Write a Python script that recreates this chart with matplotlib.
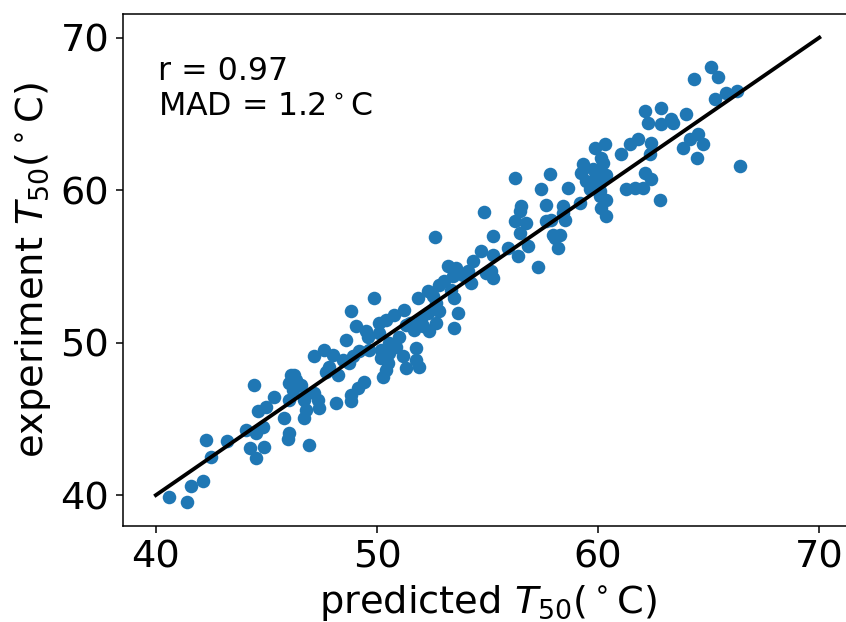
import matplotlib
matplotlib.use("Agg")
import matplotlib.pyplot as plt

predicted = [
    40.60, 41.40, 41.58, 42.14, 42.25, 42.49, 43.20, 44.07, 44.27, 44.53, 44.90, 44.42, 44.60, 44.98,
    45.36, 45.78, 46.03, 45.96, 46.11, 46.03, 46.71, 46.94, 44.55, 44.86, 46.56, 46.71, 46.79,
    48.83, 49.88, 49.05, 49.51, 48.60, 47.17, 47.62, 47.99, 47.85, 48.22, 47.70, 46.26, 46.34, 46.03,
    46.18, 46.71, 47.17, 47.32, 47.39, 48.15, 48.83, 48.83, 49.13, 49.43, 50.26, 50.41, 51.32, 50.11,
    50.41, 50.79, 51.24, 50.11, 50.56, 51.01, 51.32, 50.19, 50.56, 50.86, 48.90, 49.20, 49.66, 48.45,
    48.75,
    52.60, 54.71, 54.33, 53.20, 53.58, 54.11, 54.26, 54.94, 52.82, 53.05, 52.30, 51.84, 53.35, 53.50,
    53.65, 53.50, 52.68, 52.82, 52.68, 52.30, 52.00, 52.07, 52.37, 49.58, 51.47, 51.69, 51.77, 51.16,
    51.77, 51.92, 50.19, 50.48,
    56.22, 57.43, 57.84, 58.63, 57.65, 58.41, 56.52, 56.45, 54.86, 56.22, 56.75, 57.65, 58.48, 56.45,
    57.95, 58.26, 58.18, 55.24, 55.92, 56.82, 55.24, 56.37, 53.88, 57.27, 53.43, 55.17, 55.24, 52.52,
    62.25, 61.80, 61.43, 61.05, 59.84, 60.29, 60.14, 60.22, 59.31, 59.24, 59.76, 60.07, 60.37, 59.47,
    59.76, 60.07, 59.62, 60.07, 62.11, 62.03, 61.65, 61.28, 59.17, 60.07, 60.37, 60.14, 60.37, 58.41,
    57.88, 58.03,
    65.12, 65.42, 64.32, 65.80, 66.26, 65.27, 62.11, 62.86, 62.86, 63.31, 63.39, 63.96, 64.14, 64.52,
    64.74, 63.84, 64.45, 66.40, 62.41, 62.33, 62.41, 62.78, 59.92,
]
experiment = [
    39.85, 39.52, 40.61, 40.92, 43.61, 42.52, 43.55, 44.27, 43.07, 42.41, 43.13, 47.25, 45.54, 45.80,
    46.46, 45.04, 44.05, 43.66, 47.88, 46.24, 45.04, 43.29, 44.05, 44.49, 47.23, 46.46, 45.58,
    52.04, 52.94, 51.06, 50.73, 50.18, 49.09, 49.53, 49.20, 48.43, 47.88, 48.10, 47.88, 47.56, 47.34,
    46.90, 46.24, 46.68, 46.24, 45.70, 46.03, 46.57, 46.18, 47.01, 47.44, 47.77, 48.21, 48.32, 51.28,
    51.50, 51.83, 52.15, 50.62, 49.97, 50.40, 51.17, 49.53, 49.31, 49.74, 49.09, 49.42, 49.53, 48.87,
    48.65,
    56.93, 55.99, 55.33, 55.00, 54.89, 54.67, 53.91, 54.57, 53.80, 54.01, 53.36, 52.92, 53.47, 52.92,
    51.94, 50.95, 52.60, 52.04, 51.28, 51.94, 51.50, 51.06, 50.73, 50.40, 51.28, 50.84, 49.64, 49.09,
    48.87, 48.43, 48.98, 48.65,
    60.81, 60.04, 61.07, 60.15, 59.05, 58.94, 58.94, 58.61, 58.57, 57.96, 57.85, 57.96, 58.07, 57.19,
    57.08, 57.08, 56.21, 56.97, 56.21, 56.31, 55.77, 55.66, 54.45, 54.96, 54.34, 54.67, 54.24, 53.03,
    64.42, 63.32, 63.00, 62.34, 62.78, 63.00, 62.12, 61.79, 61.68, 61.14, 61.35, 61.24, 61.02, 60.58,
    60.37, 60.48, 60.04, 59.93, 61.14, 60.15, 60.15, 60.04, 59.17, 59.60, 59.38, 58.84, 58.29, 58.51,
    58.07, 56.87,
    68.07, 67.42, 67.27, 66.39, 66.50, 65.95, 65.18, 65.41, 64.31, 64.64, 64.42, 64.97, 63.32, 63.65,
    63.00, 62.78, 62.12, 61.57, 63.11, 62.34, 60.70, 59.32, 61.02,
]
diag = [40, 70]
ticks = [40, 50, 60, 70]
annotation = "r = 0.97\nMAD = 1.2$^\\circ$C"

k = 1.38
fig = plt.figure(figsize=(8.46, 6.22), dpi=100)
ax = fig.add_axes([0.1450, 0.1543, 0.8627, 0.8227])
ax.scatter(predicted, experiment, s=50 * k * k, color="#1f77b4", zorder=2, linewidths=0)
ax.plot(diag, diag, color="black", lw=2 * k, zorder=3)
ax.set_xlim(38.5, 71.5)
ax.set_ylim(37.975, 71.525)
ax.set_xticks(ticks)
ax.set_yticks(ticks)
ax.tick_params(labelsize=20 * k, length=3.5 * k, width=0.8 * k, pad=3.5 * k)
for sp in ax.spines.values():
    sp.set_linewidth(0.8 * k)
ax.set_xlabel("predicted $T_{50}$($^\\circ$C)", fontsize=20 * k, labelpad=4 * k)
ax.set_ylabel("experiment $T_{50}$($^\\circ$C)", fontsize=20 * k, labelpad=4 * k)
ax.text(0.048, 0.801, annotation, transform=ax.transAxes, fontsize=16.5 * k, va="baseline")
fig.savefig("out.png", dpi=100)
